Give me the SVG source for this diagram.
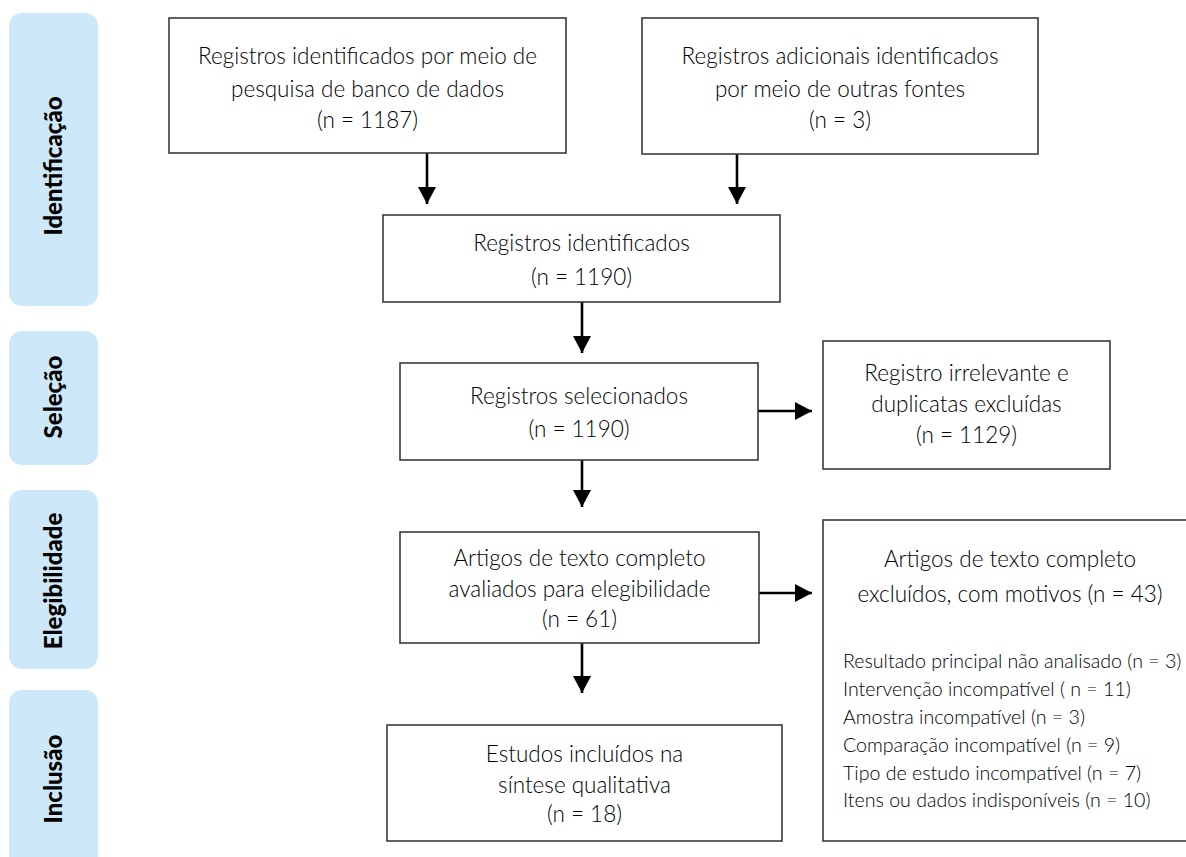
<svg xmlns="http://www.w3.org/2000/svg" width="1186" height="857" viewBox="0 0 1186 857">
  <defs>
    <marker id="arrow" markerUnits="userSpaceOnUse" markerWidth="17" markerHeight="18" refX="17" refY="9" orient="auto">
      <path d="M0,0 L17,9 L0,18 Z" fill="#000"/>
    </marker>
    <style>
      .phase { fill: #cde8f9; }
      .phase-text { font-family: Lato, "Liberation Sans", sans-serif; font-weight: 900; font-size: 24px; fill: #000; text-anchor: middle; }
      .box { fill: #fff; stroke: #3a3a3a; stroke-width: 1.6; }
      .t { font-family: Lato, "Liberation Sans", sans-serif; font-weight: 300; font-size: 22.5px; fill: #000; text-anchor: middle; }
      .l { font-family: Lato, "Liberation Sans", sans-serif; font-weight: 300; font-size: 19.6px; fill: #000; }
      .conn { stroke: #000; stroke-width: 2.6; fill: none; marker-end: url(#arrow); }
    </style>
  </defs>
  <rect width="1186" height="857" fill="#fff"/>

  <g id="phase-identificacao">
    <rect class="phase" x="9" y="13" width="89" height="293" rx="13"/>
    <text class="phase-text" transform="translate(62,166) rotate(-90)">Identificação</text>
  </g>
  <g id="phase-selecao">
    <rect class="phase" x="9" y="331" width="89" height="134" rx="13"/>
    <text class="phase-text" transform="translate(62,397) rotate(-90)">Seleção</text>
  </g>
  <g id="phase-elegibilidade">
    <rect class="phase" x="9" y="490" width="89" height="179" rx="13"/>
    <text class="phase-text" transform="translate(62,581) rotate(-90)">Elegibilidade</text>
  </g>
  <g id="phase-inclusao">
    <rect class="phase" x="9" y="690" width="89" height="190" rx="13"/>
    <text class="phase-text" transform="translate(62,779) rotate(-90)">Inclusão</text>
  </g>

  <g id="connectors">
    <line class="conn" x1="427" y1="153" x2="427" y2="204"/>
    <line class="conn" x1="737" y1="154" x2="737" y2="204"/>
    <line class="conn" x1="582" y1="302" x2="582" y2="353"/>
    <line class="conn" x1="758" y1="411" x2="812" y2="411"/>
    <line class="conn" x1="582" y1="460" x2="582" y2="507"/>
    <line class="conn" x1="759" y1="593" x2="812" y2="593"/>
    <line class="conn" x1="582" y1="643" x2="582" y2="693"/>
  </g>

  <g id="node-database">
    <rect class="box" x="169" y="18" width="397" height="135"/>
    <text class="t" x="367.5" y="64">Registros identificados por meio de</text>
    <text class="t" x="367.5" y="97">pesquisa de banco de dados</text>
    <text class="t" x="367.5" y="128">(n = 1187)</text>
  </g>
  <g id="node-other-sources">
    <rect class="box" x="642" y="18" width="396" height="136"/>
    <text class="t" x="840" y="64">Registros adicionais identificados</text>
    <text class="t" x="840" y="97">por meio de outras fontes</text>
    <text class="t" x="840" y="128">(n = 3)</text>
  </g>
  <g id="node-identified">
    <rect class="box" x="383" y="215" width="397" height="87"/>
    <text class="t" x="581.5" y="251">Registros identificados</text>
    <text class="t" x="581.5" y="285">(n = 1190)</text>
  </g>
  <g id="node-screened">
    <rect class="box" x="400" y="363" width="358" height="97"/>
    <text class="t" x="579" y="404">Registros selecionados</text>
    <text class="t" x="579" y="437">(n = 1190)</text>
  </g>
  <g id="node-excluded-records">
    <rect class="box" x="823" y="341" width="287" height="128"/>
    <text class="t" x="966.5" y="381">Registro irrelevante e</text>
    <text class="t" x="966.5" y="412">duplicatas excluídas</text>
    <text class="t" x="966.5" y="443">(n = 1129)</text>
  </g>
  <g id="node-fulltext">
    <rect class="box" x="400" y="532" width="359" height="111"/>
    <text class="t" x="579.5" y="566">Artigos de texto completo</text>
    <text class="t" x="579.5" y="597">avaliados para elegibilidade</text>
    <text class="t" x="579.5" y="627">(n = 61)</text>
  </g>
  <g id="node-fulltext-excluded">
    <rect class="box" x="823" y="520" width="374" height="321"/>
    <text class="t" x="1010" y="567">Artigos de texto completo</text>
    <text class="t" x="1010" y="602">excluídos, com motivos (n = 43)</text>
    <text class="l" x="843" y="668">Resultado principal não analisado (n = 3)</text>
    <text class="l" x="843" y="696">Intervenção incompatível ( n = 11)</text>
    <text class="l" x="843" y="724">Amostra incompatível (n = 3)</text>
    <text class="l" x="843" y="752">Comparação incompatível (n = 9)</text>
    <text class="l" x="843" y="780">Tipo de estudo incompatível (n = 7)</text>
    <text class="l" x="843" y="807">Itens ou dados indisponíveis (n = 10)</text>
  </g>
  <g id="node-included">
    <rect class="box" x="387" y="725" width="395" height="116"/>
    <text class="t" x="584.5" y="762">Estudos incluídos na</text>
    <text class="t" x="584.5" y="793">síntese qualitativa</text>
    <text class="t" x="584.5" y="822">(n = 18)</text>
  </g>
</svg>
